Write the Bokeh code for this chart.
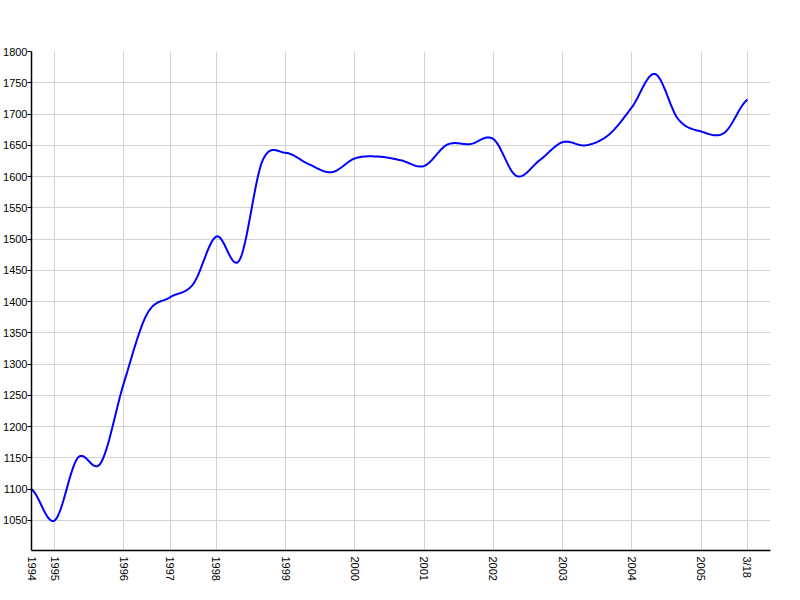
import numpy as np
from bokeh.plotting import figure
from bokeh.models import FixedTicker, SingleIntervalTicker, Range1d
from bokeh.embed import file_html
from bokeh.resources import INLINE

# One entry per data point; blank where the point carries no axis label
point_labels = ["1994", "1995", "", "", "1996", "", "1997", "", "1998", "", "",
                "1999", "", "", "2000", "", "", "2001", "", "", "2002", "", "",
                "2003", "", "", "2004", "", "", "2005", "", "3/18"]
values = [1100, 1050, 1150, 1142, 1270, 1380, 1407, 1428, 1504, 1466, 1625,
          1638, 1620, 1607, 1629, 1632, 1626, 1617, 1651, 1652, 1660, 1601,
          1626, 1655, 1650, 1667, 1711, 1764, 1692, 1672, 1670, 1723]

y_min, y_max = 1002, 1800
x_max = 32

# smooth (Catmull-Rom / cardinal) curve through the data points for drawing
yv = np.asarray(values, dtype=float)
n = len(yv)
xi = np.arange(n, dtype=float)
m = np.empty(n)
m[1:-1] = (yv[2:] - yv[:-2]) / 2.0
m[0] = (yv[1] - yv[0]) / 2.0
m[-1] = (yv[-1] - yv[-2]) / 2.0
xs, ys = [], []
steps = 24
for i in range(n - 1):
    t = np.linspace(0, 1, steps, endpoint=(i == n - 2))
    h00 = 2 * t**3 - 3 * t**2 + 1
    h10 = t**3 - 2 * t**2 + t
    h01 = -2 * t**3 + 3 * t**2
    h11 = t**3 - t**2
    ys.append(h00 * yv[i] + h10 * m[i] + h01 * yv[i + 1] + h11 * m[i + 1])
    xs.append(xi[i] + t)
xs = np.concatenate(xs)
ys = np.concatenate(ys)

p = figure(width=792, height=592, output_backend="svg", toolbar_location=None,
           x_range=Range1d(0, x_max), y_range=Range1d(y_min, y_max),
           min_border_left=0, min_border_right=22, min_border_top=51,
           min_border_bottom=42)
p.outline_line_color = None
p.background_fill_color = "white"
p.border_fill_color = "white"

p.line(xs, ys, line_color="#0000ff", line_width=2)

tick_pos = [i for i, s in enumerate(point_labels) if s]
p.xaxis.ticker = FixedTicker(ticks=tick_pos)
p.xaxis.major_label_overrides = {i: point_labels[i] for i in tick_pos}
p.xaxis.major_label_orientation = -np.pi / 2
p.xaxis.major_tick_out = 0
p.xaxis.major_tick_in = 0
p.xaxis.minor_tick_line_color = None
p.xaxis.major_label_standoff = 6

p.yaxis.ticker = SingleIntervalTicker(interval=50)
p.yaxis.major_tick_out = 4
p.yaxis.major_tick_in = 0
p.yaxis.minor_tick_line_color = None
p.yaxis.major_label_standoff = 0

for ax in (p.xaxis, p.yaxis):
    ax.axis_line_color = "black"
    ax.axis_line_width = 1.5
    ax.major_tick_line_color = "black"
    ax.major_label_text_font = "Liberation Sans"
    ax.major_label_text_font_size = "11px"
    ax.major_label_text_color = "black"

p.xgrid.grid_line_color = "#d3d3d3"
p.ygrid.grid_line_color = "#d3d3d3"
p.xgrid.grid_line_width = 1
p.ygrid.grid_line_width = 1

open("out.html", "w").write(file_html(p, INLINE))
